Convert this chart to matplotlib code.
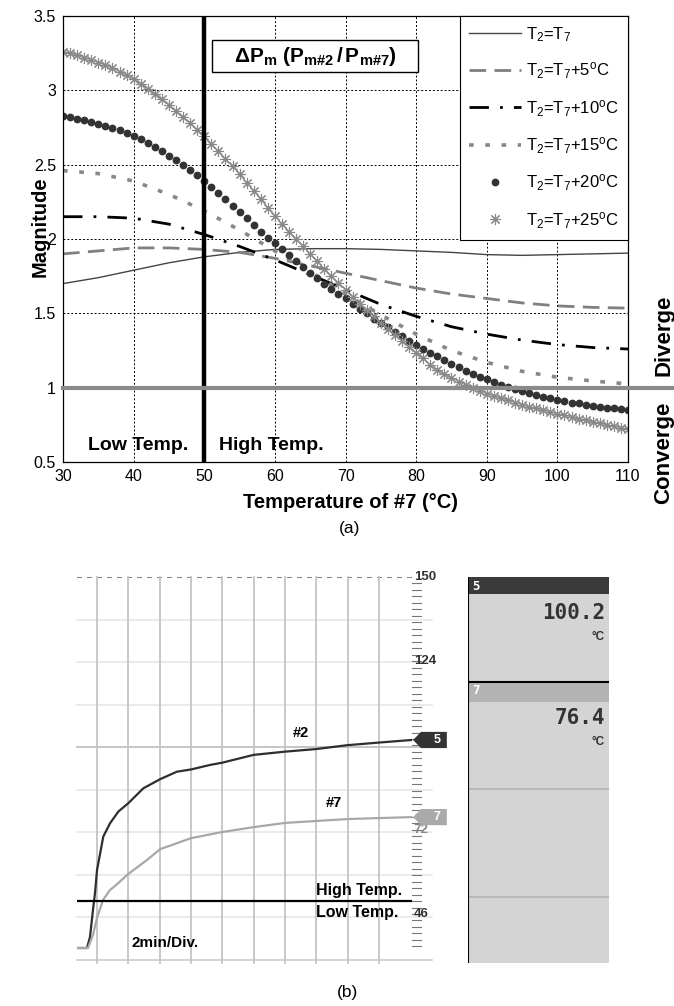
import numpy as np
import matplotlib.pyplot as plt
from matplotlib.patches import Polygon, Rectangle

plt.rcParams['font.family'] = ['Liberation Sans', 'DejaVu Sans']
plt.rcParams['mathtext.fontset'] = 'custom'
plt.rcParams['mathtext.rm'] = 'Liberation Sans'
plt.rcParams['mathtext.it'] = 'Liberation Sans:italic'
plt.rcParams['mathtext.bf'] = 'Liberation Sans:bold'

# ---------------- (a) magnitude vs temperature of #7
temp = [30, 35, 40, 45, 50, 55, 60, 65, 70, 75, 80, 85, 90, 95, 100, 105, 110]
mag_0 = [1.70, 1.74, 1.79, 1.84, 1.88, 1.91, 1.93, 1.935, 1.935, 1.93, 1.92, 1.91, 1.895, 1.89, 1.895, 1.90, 1.905]
mag_5 = [1.90, 1.92, 1.94, 1.94, 1.93, 1.91, 1.87, 1.82, 1.77, 1.72, 1.67, 1.63, 1.60, 1.57, 1.55, 1.54, 1.535]
mag_10 = [2.15, 2.15, 2.14, 2.10, 2.03, 1.95, 1.86, 1.76, 1.66, 1.56, 1.48, 1.41, 1.36, 1.32, 1.29, 1.27, 1.26]
mag_15 = [2.46, 2.44, 2.39, 2.30, 2.19, 2.06, 1.92, 1.78, 1.63, 1.49, 1.36, 1.25, 1.17, 1.11, 1.07, 1.045, 1.025]

# markers sit at every 1 degC
temp_fine = list(range(30, 111))
mag_20 = [2.83, 2.82, 2.81, 2.80, 2.79, 2.775, 2.76, 2.745, 2.73, 2.71,
          2.69, 2.67, 2.645, 2.62, 2.59, 2.56, 2.53, 2.50, 2.465, 2.43,
          2.39, 2.35, 2.31, 2.27, 2.225, 2.18, 2.14, 2.095, 2.05, 2.01,
          1.97, 1.93, 1.89, 1.85, 1.81, 1.77, 1.735, 1.70, 1.665, 1.63,
          1.60, 1.565, 1.53, 1.50, 1.465, 1.435, 1.405, 1.375, 1.345, 1.315,
          1.29, 1.26, 1.235, 1.21, 1.185, 1.16, 1.14, 1.115, 1.095, 1.075,
          1.055, 1.04, 1.02, 1.005, 0.99, 0.975, 0.965, 0.95, 0.94, 0.93,
          0.92, 0.91, 0.90, 0.895, 0.885, 0.88, 0.87, 0.865, 0.86, 0.855,
          0.85]
mag_25 = [3.26, 3.25, 3.235, 3.22, 3.205, 3.185, 3.17, 3.15, 3.125, 3.10,
          3.075, 3.045, 3.01, 2.975, 2.94, 2.90, 2.86, 2.82, 2.78, 2.735,
          2.69, 2.64, 2.59, 2.54, 2.49, 2.435, 2.38, 2.325, 2.27, 2.21,
          2.155, 2.10, 2.05, 2.00, 1.95, 1.90, 1.85, 1.80, 1.75, 1.705,
          1.66, 1.61, 1.565, 1.52, 1.48, 1.435, 1.395, 1.355, 1.315, 1.275,
          1.235, 1.20, 1.15, 1.12, 1.09, 1.065, 1.04, 1.02, 1.00, 0.98,
          0.96, 0.945, 0.93, 0.915, 0.90, 0.885, 0.87, 0.86, 0.85, 0.835,
          0.825, 0.815, 0.80, 0.79, 0.78, 0.77, 0.76, 0.75, 0.74, 0.73,
          0.725]

labels_a = [r'T$_\mathrm{2}$=T$_\mathrm{7}$',
            r'T$_\mathrm{2}$=T$_\mathrm{7}$+5$^\mathrm{o}$C',
            r'T$_\mathrm{2}$=T$_\mathrm{7}$+10$^\mathrm{o}$C',
            r'T$_\mathrm{2}$=T$_\mathrm{7}$+15$^\mathrm{o}$C',
            r'T$_\mathrm{2}$=T$_\mathrm{7}$+20$^\mathrm{o}$C',
            r'T$_\mathrm{2}$=T$_\mathrm{7}$+25$^\mathrm{o}$C']
yticks_a = [0.5, 1, 1.5, 2, 2.5, 3, 3.5]
ytick_labels_a = ['0.5', '1', '1.5', '2', '2.5', '3', '3.5']

# ---------------- (b) recorder trace of #2 and #7
t_2 = [-1.28, -0.64, -0.45, -0.26, -0.13, 0.0, 0.40, 0.83, 1.36, 2.0, 2.96, 4.03,
       5.09, 6.0, 7.22, 8.0, 10.0, 12.0, 14.0, 16.0, 18.0, 20.1]
T_2 = [35.5, 35.5, 38.9, 47.2, 52.5, 59.6, 69.9, 74.0, 77.6, 80.2, 84.8, 87.6,
       89.9, 90.6, 92.0, 92.7, 95.1, 96.1, 96.9, 98.1, 98.9, 99.7]
t_7 = [-1.28, -0.58, -0.26, 0.0, 0.38, 0.83, 1.28, 1.98, 3.2, 4.03, 6.0, 8.0,
       10.0, 12.0, 14.0, 16.0, 18.0, 20.1]
T_7 = [35.5, 35.5, 39.5, 44.8, 50.3, 53.4, 55.2, 58.3, 62.7, 66.0, 69.4, 71.3,
       72.8, 74.1, 74.7, 75.3, 75.6, 75.9]
scale_labels = [150, 124, 72, 46]
readout_ch = ['5', '7']
readout_val = ['100.2', '76.4']

fig = plt.figure(figsize=(6.74, 10.06), dpi=100)

# ===== panel (a)
ax = fig.add_axes([63/674, 1-462/1006, 565/674, 446/1006])
ax.set_xlim(30, 110)
ax.set_ylim(0.5, 3.5)
ax.set_xticks(range(30, 111, 10))
ax.set_yticks(yticks_a)
ax.set_yticklabels(ytick_labels_a)
ax.tick_params(length=0, labelsize=11.5, pad=5)
ax.grid(True, color='black', ls=(0, (2, 2)), lw=0.7)
for s in ax.spines.values():
    s.set_linewidth(0.9)

ax.plot(temp, mag_0, color='#444444', lw=1.0, label=labels_a[0])
ax.plot(temp, mag_5, color='#808080', lw=2.0, dashes=(6, 3), label=labels_a[1])
ax.plot(temp, mag_10, color='black', lw=2.0, dashes=(7, 4, 1, 4), label=labels_a[2])
ax.plot(temp, mag_15, color='#888888', lw=2.6, dashes=(1.3, 3.2), label=labels_a[3])
ax.plot(temp_fine, mag_20, ls='none', marker='o', ms=4.6, color='#333333', label=labels_a[4])
ax.plot(temp_fine, mag_25, color='#999999', lw=0.8)
ax.plot(temp_fine, mag_25, ls='none', marker=(8, 2, 0), ms=8, mew=0.8,
        mec='#888888', label=labels_a[5])

ax.axvline(50, color='black', lw=3.2, zorder=4)
ax.axhline(1, xmin=0, xmax=(674-63)/565, color='#8a8a8a', lw=3, clip_on=False, zorder=4)

leg = ax.legend(loc='upper right', fontsize=12, fancybox=False, edgecolor='black',
                framealpha=1, borderaxespad=0, handlelength=3.1, handletextpad=0.3,
                labelspacing=1.0, borderpad=0.55, numpoints=1)
leg.get_frame().set_linewidth(0.8)

# boxed caption inside the plot
ax.add_patch(Rectangle((51.1, 3.12), 29.2, 0.22, fc='white', ec='black', lw=1, zorder=5))
ax.text(65.7, 3.225, r'$\mathbf{\Delta P}_\mathbf{m}$ $\mathbf{(P}_\mathbf{m\#2}\mathbf{\,/\,P}_\mathbf{m\#7}\mathbf{)}$',
        ha='center', va='center', fontsize=15, zorder=6)
ax.text(40.6, 0.614, 'Low Temp.', ha='center', va='center', fontsize=14, weight='bold')
ax.text(59.5, 0.614, 'High Temp.', ha='center', va='center', fontsize=14, weight='bold')
ax.text(-0.041, 0.527, 'Magnitude', rotation=90, transform=ax.transAxes,
        ha='center', va='center', fontsize=14.5, weight='bold')
ax.text(0.508, -0.0897, 'Temperature of #7 (°C)', transform=ax.transAxes,
        ha='center', va='center', fontsize=14.5, weight='bold')
fig.text(664/674, 1-335/1006, 'Diverge', rotation=90, ha='center', va='center',
         fontsize=16, weight='bold')
fig.text(664/674, 1-453/1006, 'Converge', rotation=90, ha='center', va='center',
         fontsize=16, weight='bold')
fig.text(350/674, 1-528/1006, '(a)', ha='center', va='center', fontsize=12.5)

# ===== panel (b)
bx = fig.add_axes([77/674, 1-960/1006, 335/674, 383/1006])
bx.set_xlim(-1.28, 20.12)
bx.set_ylim(31.8, 150)
bx.axis('off')

grid_T = np.linspace(31.8, 150, 10)
for k, g in enumerate(grid_T[:-1]):
    c = '#b5b5b5' if k == 5 else ('#c8c8c8' if k == 0 else '#e4e4e4')
    bx.axhline(g, xmin=0, xmax=1.06, color=c, lw=1.1, clip_on=False, zorder=1)
bx.axhline(150, color='#6a6a6a', lw=1.2, dashes=(3, 3), zorder=1)
for t in range(0, 19, 2):
    bx.axvline(t, ymin=-0.008, ymax=1, color='#c4c4c4', lw=1.3, clip_on=False, zorder=1)

# scale on the right edge
tr = bx.get_yaxis_transform()
for T in range(36, 150, 2):
    bx.plot([1.0, 1.027], [T, T], color='#777777', lw=0.8, transform=tr, clip_on=False)
for v in scale_labels:
    bx.text(1.005, v, str(v), transform=tr, ha='left', va='center', fontsize=9.5,
            weight='bold', color='#333333' if v != 72 else '#888888', zorder=2)

bx.plot(t_2, T_2, color='#2e2e2e', lw=1.6, zorder=3)
bx.plot(t_7, T_7, color='#a8a8a8', lw=1.6, zorder=3)
bx.axhline(50, color='black', lw=1.6, zorder=4)

for val, fc in [(T_2[-1], '#333333'), (T_7[-1], '#aaaaaa')]:
    pts = [(1.003, val), (1.027, val + 2.5), (1.104, val + 2.5), (1.104, val - 2.5), (1.027, val - 2.5)]
    bx.add_patch(Polygon(pts, closed=True, fc=fc, ec='none', transform=tr, clip_on=False, zorder=5))
bx.text(1.075, T_2[-1], '5', transform=tr, ha='center', va='center', color='white',
        fontsize=9, weight='bold', zorder=6)
bx.text(1.075, T_7[-1], '7', transform=tr, ha='center', va='center', color='white',
        fontsize=9, weight='bold', zorder=6)

bx.text(0.970, 53.4, 'High Temp.', transform=tr, ha='right', va='center', fontsize=11.5, weight='bold')
bx.text(0.958, 46.6, 'Low Temp.', transform=tr, ha='right', va='center', fontsize=11.5, weight='bold')
bx.text(13.0, 101.9, '#2', ha='center', va='center', fontsize=10.5, weight='bold')
bx.text(15.1, 80.2, '#7', ha='center', va='center', fontsize=10.5, weight='bold')
bx.text(4.35, 37.0, '2min/Div.', ha='center', va='center', fontsize=11, weight='bold')

# readout panel
rd = fig.add_axes([468/674, 1-963/1006, 141/674, 386/1006])
rd.set_xlim(0, 141)
rd.set_ylim(386, 0)
rd.axis('off')
rd.add_patch(Rectangle((0, 0), 141, 386, fc='#d4d4d4', ec='none'))
rd.add_patch(Rectangle((0, 0), 141, 17, fc='#3a3a3a', ec='none'))
rd.add_patch(Rectangle((0, 105), 141, 20, fc='#b3b3b3', ec='none'))
rd.plot([0, 141], [105, 105], color='black', lw=1.5)
for yy in [212, 320]:
    rd.plot([0, 141], [yy, yy], color='#b8b8b8', lw=1.5)
rd.plot([0, 0], [0, 386], color='black', lw=1.5)
for ch, val, y0 in zip(readout_ch, readout_val, [0, 105]):
    rd.text(4, y0 + 9, ch, color='white', ha='left', va='center', fontsize=9,
            family='DejaVu Sans Mono', weight='bold')
    rd.text(137, y0 + 36, val, color='#333333', ha='right', va='center', fontsize=15,
            family='DejaVu Sans Mono', weight='bold')
    rd.text(137, y0 + 60, '°C', color='#333333', ha='right', va='center', fontsize=8.5,
            weight='bold')

fig.text(348/674, 1-993/1006, '(b)', ha='center', va='center', fontsize=12.5)

fig.savefig('out.png', dpi=100)
